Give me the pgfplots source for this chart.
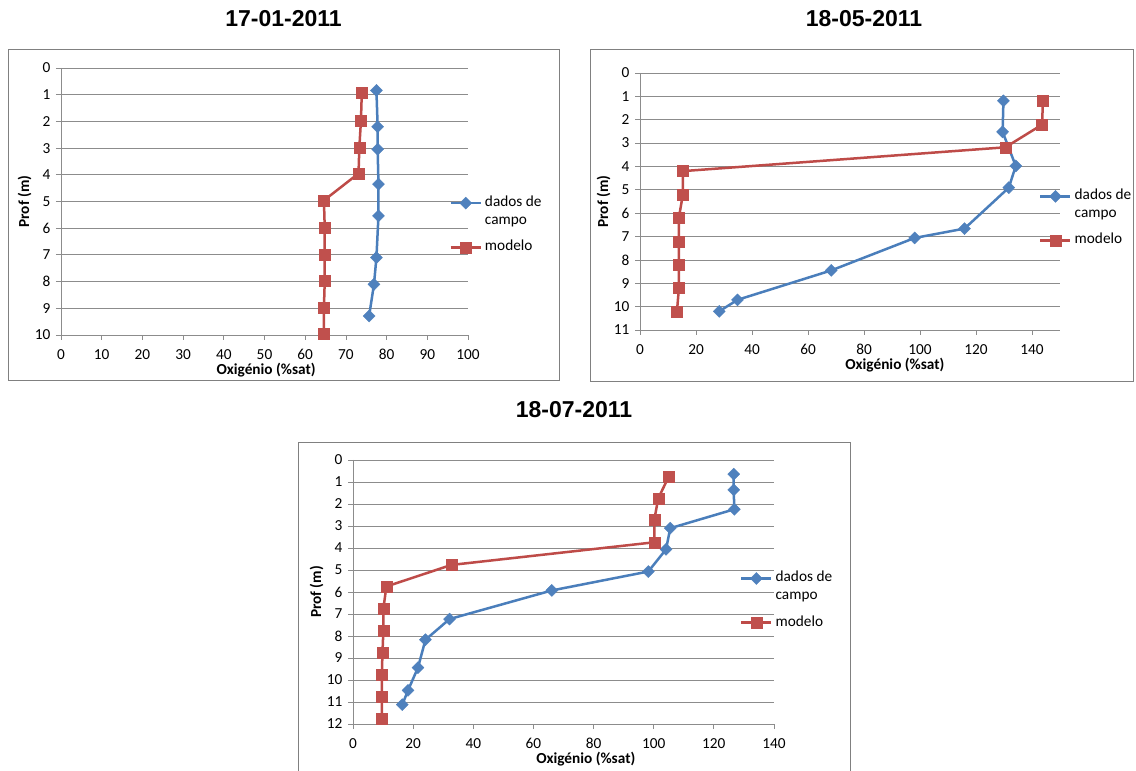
\documentclass[border=0pt]{standalone}
\usepackage{pgfplots}
\pgfplotsset{compat=1.18}
\usepackage{fontspec}
\setmainfont{Carlito}
\newfontfamily\titlefont{Liberation Sans}
\definecolor{serA}{HTML}{4A7EBB}
\definecolor{serAf}{HTML}{4F81BD}
\definecolor{serB}{HTML}{BE4B48}
\definecolor{serBf}{HTML}{C0504D}
\definecolor{gridc}{HTML}{8C8C8C}
\definecolor{framec}{HTML}{808080}
\newcommand\fs{\fontsize{15.3}{18}\selectfont}
\pgfplotsset{
  excel/.style={
    scale only axis,
    y dir=reverse,
    axis x line*=bottom,
    axis y line*=left,
    axis line style={gridc, line width=0.8pt, -},
    ymajorgrids,
    grid style={gridc, line width=0.8pt},
    tick align=outside,
    major tick length=5pt,
    tick style={gridc, line width=0.8pt},
    /pgf/number format/assume math mode=true,
    ticklabel style={font=\fs},
    yticklabel style={xshift=-2pt},
    xticklabel style={yshift=-6pt},
    label style={font=\fs\bfseries},
    xlabel={Oxigénio (\%sat)},
    ylabel={Prof (m)},
    ylabel style={inner sep=0pt},
    xlabel style={inner sep=0pt, anchor=north},
    ytick distance=1,
    legend cell align=left,
    legend style={draw=none, fill=none, inner sep=0pt, font=\fs,
      row sep=28pt, column sep=1pt, cells={anchor=base west, inner sep=1pt}},
    legend image code/.code={%
      \draw[##1, mark repeat=2, mark phase=2] plot coordinates {(0pt,3.5pt) (15pt,3.5pt) (30pt,3.5pt)};},
  },
  campo/.style={serA, line width=2.5pt, mark=diamond*, mark size=6pt,
    mark options={xscale=1.33, fill=serAf, draw=serAf, line width=0.4pt, solid}},
  modelo/.style={serB, line width=2.5pt, mark=square*, mark size=5.5pt,
    mark options={fill=serBf, draw=serBf, line width=0.4pt, solid}},
}
\newcommand\entryA{\begin{tabular}[t]{@{}l@{}}dados de\\campo\end{tabular}}
\begin{document}
\begin{tikzpicture}
\useasboundingbox (0,0) rectangle (1136pt,771pt);
\fill[white] (0,0) rectangle (1136pt,771pt);
% frames
\draw[framec, line width=1pt] (8pt,390pt) rectangle (559pt,721pt);
\draw[framec, line width=1pt] (590pt,389pt) rectangle (1133pt,721pt);
\draw[framec, line width=1pt] (298pt,-5pt) rectangle (850pt,328pt);
% titles
\node[font=\titlefont\bfseries\fontsize{23}{27}\selectfont] at (283.5pt,752pt) {17-01-2011};
\node[font=\titlefont\bfseries\fontsize{23}{27}\selectfont] at (864pt,752pt) {18-05-2011};
\node[font=\titlefont\bfseries\fontsize{23}{27}\selectfont] at (574pt,361pt) {18-07-2011};

% chart 1
\begin{axis}[excel, at={(264.5pt,569.5pt)}, anchor=center,
  width=407pt, height=267pt,
  xmin=0, xmax=100, ymin=0, ymax=10, xtick distance=10,
  xlabel style={at={(ticklabel cs:0.504)}},
  legend style={at={(axis description cs:0.954,0.536)}, anchor=north west}]
\addplot[campo] coordinates {(77.5,0.84)(77.8,2.2)(77.8,3.04)(78.0,4.35)(78.0,5.54)(77.5,7.1)(76.9,8.1)(75.7,9.29)};
\addplot[modelo] coordinates {(73.9,0.94)(73.7,1.96)(73.3,2.98)(73.1,3.95)(64.6,4.96)(64.8,5.99)(64.8,6.98)(64.8,7.98)(64.6,8.98)(64.6,9.96)};
\legend{\entryA, modelo}
\end{axis}

% chart 2
\begin{axis}[excel, at={(850pt,569.5pt)}, anchor=center,
  width=420pt, height=257pt,
  xmin=0, xmax=150, ymin=0, ymax=11, xtick={0,20,...,140},
  xlabel style={at={(ticklabel cs:0.607)}},
  legend style={at={(axis description cs:0.950,0.564)}, anchor=north west}]
\addplot[campo] coordinates {(129.8,1.19)(129.5,2.52)(134.2,3.98)(131.7,4.91)(115.9,6.66)(98.1,7.06)(68.3,8.45)(34.8,9.71)(28.3,10.2)};
\addplot[modelo] coordinates {(143.9,1.19)(143.6,2.21)(130.5,3.18)(15.3,4.2)(15.3,5.2)(13.9,6.19)(13.9,7.2)(13.9,8.19)(13.9,9.2)(13.2,10.2)};
\legend{\entryA, modelo}
\end{axis}

% chart 3
\begin{axis}[excel, at={(563.5pt,179pt)}, anchor=center,
  width=421pt, height=264pt,
  xmin=0, xmax=140, ymin=0, ymax=12, xtick distance=20,
  xlabel style={at={(ticklabel cs:0.553)}},
  legend style={at={(axis description cs:0.919,0.594)}, anchor=north west}]
\addplot[campo] coordinates {(126.6,0.64)(126.6,1.36)(126.8,2.24)(105.5,3.10)(104.1,4.06)(98.2,5.07)(66.1,5.93)(32.1,7.23)(24.1,8.17)(21.6,9.44)(18.3,10.47)(16.4,11.12)};
\addplot[modelo] coordinates {(105.0,0.76)(101.5,1.74)(100.2,2.72)(100.2,3.74)(32.7,4.77)(11.1,5.75)(10.1,6.76)(10.1,7.76)(9.8,8.75)(9.6,9.76)(9.6,10.76)(9.6,11.77)};
\legend{\entryA, modelo}
\end{axis}
\end{tikzpicture}
\end{document}
